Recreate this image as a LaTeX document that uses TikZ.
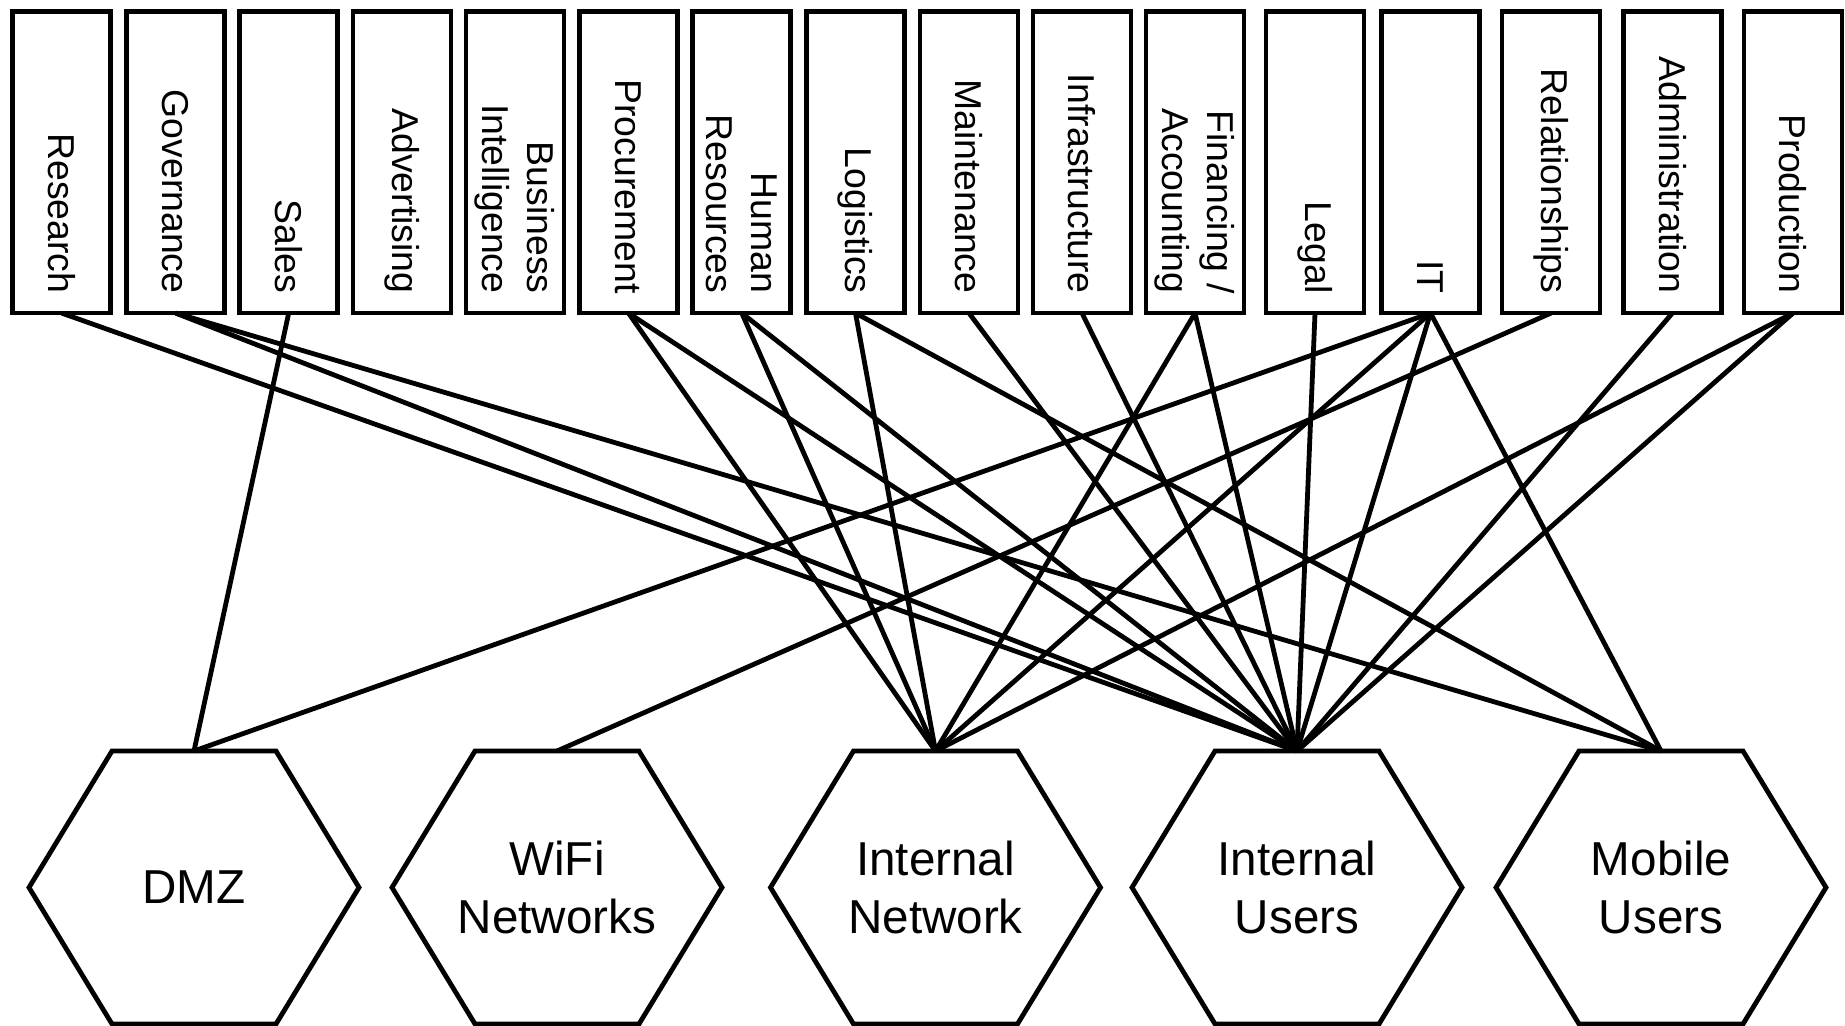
\documentclass[tikz,border=0pt]{standalone}
\usepackage{fontspec}
\setmainfont{Liberation Sans}
\begin{document}
\begin{tikzpicture}[x=0.5pt,y=-0.5pt,
  dept/.style={draw, line width=2.4pt, minimum width=49pt, minimum height=150.6pt,
    inner sep=0pt, outer sep=0pt},
  deptlabel/.style={rotate=-90, anchor=east, inner sep=0pt, align=right,
    font=\fontsize{18.7}{22.5}\selectfont},
  zone/.style={minimum width=165pt, minimum height=136.5pt, inner sep=0pt,
    outer sep=0pt, align=center, font=\fontsize{23.8}{29}\selectfont},
  zoneline/.style={line width=2.4pt, line join=miter},
  link/.style={line width=2.4pt}]
\useasboundingbox (0,0) rectangle (1845,1026);

% departments along the top
\foreach \n/\x/\t in {res/61.7/Research, gov/175.6/Governance, sales/288.7/Sales,
  adv/401.9/Advertising, bi/515/{Business\\Intelligence}, proc/628.5/Procurement,
  hr/741.8/{Human\\Resources}, logi/855.5/Logistics, maint/969/Maintenance,
  infra/1082/Infrastructure, fin/1195/{Financing /\\Accounting}, legal/1315/Legal,
  it/1430.5/IT, rel/1551/Relationships, admin/1672.4/Administration,
  prod/1793/Production}{
  \node[dept] (\n) at (\x,162.5) {};
  \node[deptlabel] (\n-txt) at ([yshift=9.6pt]\n.south) {\t};
}

% network zones along the bottom
\node[zone] (dmz)  at (194,887.5)    {DMZ};
\node[zone] (wifi) at (557,887.5)    {WiFi\\Networks};
\node[zone] (inet) at (935.5,887.5)  {Internal\\Network};
\node[zone] (iusr) at (1297,887.5)   {Internal\\Users};
\node[zone] (mob)  at (1661,887.5)   {Mobile\\Users};
\foreach \n in {dmz,wifi,inet,iusr,mob}
  \draw[zoneline] ([xshift=-41pt]\n.north) -- ([xshift=41pt]\n.north) -- (\n.east)
    -- ([xshift=41pt]\n.south) -- ([xshift=-41pt]\n.south) -- (\n.west) -- cycle;

% department-to-zone links
\foreach \a/\b in {res/iusr, gov/iusr, gov/mob, sales/dmz, proc/inet, proc/iusr,
  hr/inet, hr/iusr, logi/inet, logi/mob, maint/iusr, infra/iusr, fin/inet, fin/iusr,
  legal/iusr, it/dmz, it/inet, it/iusr, it/mob, rel/wifi, admin/iusr, prod/inet,
  prod/iusr}
  \draw[link] (\a.south) -- (\b.north);
\end{tikzpicture}
\end{document}
